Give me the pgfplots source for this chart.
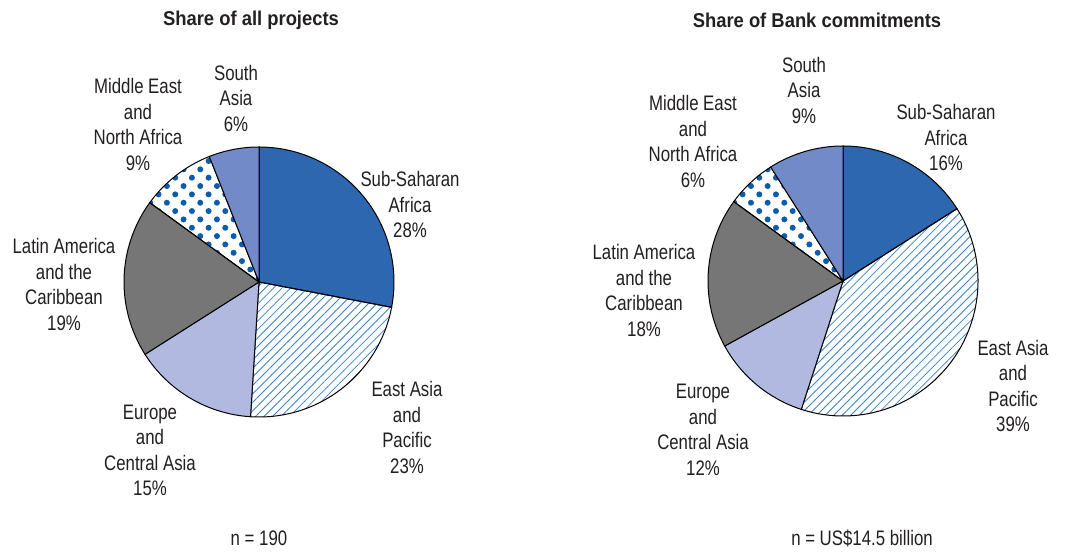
\documentclass[border=0pt]{standalone}
\usepackage{pgfplots}
\pgfplotsset{compat=1.18}
\usepackage{pgfplotstable}
\usetikzlibrary{patterns.meta}
\usepackage{fontspec}
\setmainfont{Liberation Sans}[FakeStretch=0.8]
\newfontfamily\titlefont{Liberation Sans}[FakeStretch=0.92]

\definecolor{ssa}{HTML}{2D67B0}
\definecolor{sar}{HTML}{728BC8}
\definecolor{eca}{HTML}{B1B9E1}
\definecolor{lac}{HTML}{767676}
\definecolor{dotblue}{HTML}{0B5CAD}
\definecolor{lineblue}{HTML}{3A82C8}
\definecolor{txt}{HTML}{231F20}

% shares in percent, clockwise from 12 o'clock
\pgfplotstableread{
region share
SSA 28
EAP 23
ECA 15
LAC 19
MENA 9
SAR 6
}\projects
\pgfplotstableread{
region share
SSA 16
EAP 39
ECA 12
LAC 18
MENA 6
SAR 9
}\commitments

\tikzset{
  sl0/.style={fill=ssa,draw=black,line width=0.5pt},
  sl1/.style={pattern={Lines[angle=45,distance=3pt,line width=0.42pt]},pattern color=lineblue,draw=black,line width=0.5pt},
  sl2/.style={fill=eca,draw=black,line width=0.5pt},
  sl3/.style={fill=lac,draw=black,line width=0.5pt},
  sl4/.style={pattern={Dots[angle=45,distance=5.9pt,radius=1.5pt]},pattern color=dotblue,draw=black,line width=0.5pt},
  sl5/.style={fill=sar,draw=black,line width=0.5pt},
  lab/.style={align=center,text=txt,font=\fontsize{10.5}{12.75}\selectfont},
  ttl/.style={align=center,text=txt,font=\titlefont\bfseries\fontsize{10}{12}\selectfont},
}

% #1 table, #2 cx, #3 cy (axis units)
\newcommand\pie[3]{%
  \xdef\cum{90}%
  \foreach \k in {0,...,5}{%
    \pgfplotstablegetelem{\k}{share}\of#1%
    \pgfmathsetmacro\endang{\cum-3.6*\pgfplotsretval}%
    \path[sl\k] (axis cs:#2,#3) -- ++(\cum:67.5pt) arc[start angle=\cum,end angle=\endang,radius=67.5pt] -- cycle;
    \xdef\cum{\endang}%
  }%
}

\begin{document}
\begin{tikzpicture}
\begin{axis}[
  width=533pt, height=274pt, scale only axis,
  xmin=0, xmax=1066, ymin=0, ymax=548,
  hide axis, clip=false,
]
\addplot[draw=none] coordinates {(0,0) (1066,548)};
\pgfplotsextra{\pie{\projects}{259}{266}}
\pgfplotsextra{\pie{\commitments}{843}{267}}

% left labels
\node[ttl] at (axis cs:251,528) {Share of all projects};
\node[lab] at (axis cs:410,343.5) {Sub-Saharan\\Africa\\28\%};
\node[lab] at (axis cs:407,120.5) {East Asia\\and\\Pacific\\23\%};
\node[lab] at (axis cs:150,97.5) {Europe\\and\\Central Asia\\15\%};
\node[lab] at (axis cs:64,263.5) {Latin America\\and the\\Caribbean\\19\%};
\node[lab] at (axis cs:138,423.5) {Middle East\\and\\North Africa\\9\%};
\node[lab] at (axis cs:236,450) {South\\Asia\\6\%};
\node[lab] at (axis cs:259,10) {n = 190};

% right labels
\node[ttl] at (axis cs:817,528) {Share of Bank commitments};
\node[lab] at (axis cs:804,458) {South\\Asia\\9\%};
\node[lab] at (axis cs:946,410.5) {Sub-Saharan\\Africa\\16\%};
\node[lab] at (axis cs:693,406.5) {Middle East\\and\\North Africa\\6\%};
\node[lab] at (axis cs:644,257.5) {Latin America\\and the\\Caribbean\\18\%};
\node[lab] at (axis cs:1013,162) {East Asia\\and\\Pacific\\39\%};
\node[lab] at (axis cs:703,118) {Europe\\and\\Central Asia\\12\%};
\node[lab] at (axis cs:862,10) {n = US\$14.5 billion};
\end{axis}
\end{tikzpicture}
\end{document}
